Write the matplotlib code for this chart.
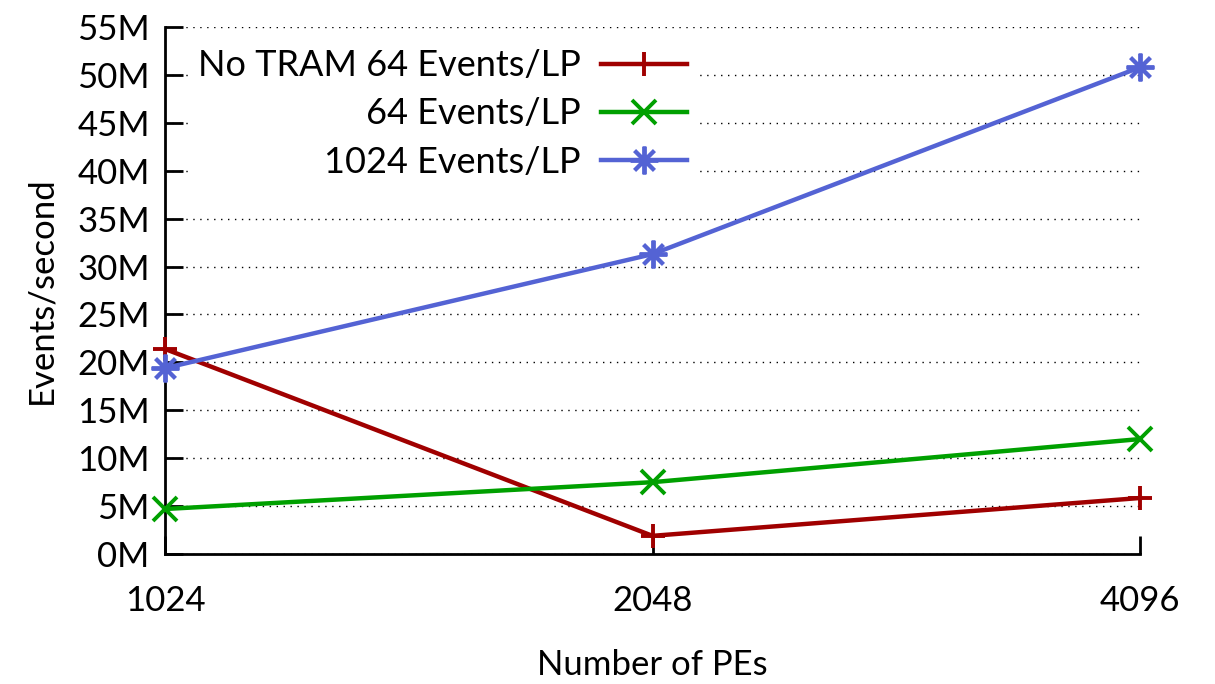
import matplotlib
matplotlib.use("Agg")
import matplotlib.pyplot as plt

plt.rcParams["font.family"] = ["Lato", "DejaVu Sans"]

pes = ["1024", "2048", "4096"]
no_tram_64 = [21.4, 1.9, 5.85]
tram_64 = [4.7, 7.5, 12.0]
tram_1024 = [19.4, 31.3, 50.8]
yticks = list(range(0, 56, 5))

fig = plt.figure(figsize=(12.15, 6.84), dpi=100)
ax = fig.add_axes([0.1358, 0.190, 0.8025, 0.7705])

xs = range(len(pes))
style = dict(lw=3.2, mew=2.8, clip_on=False, zorder=3)
ax.plot(xs, no_tram_64, color="#a00000", marker="+", ms=17,
        label="No TRAM 64 Events/LP", **style)
ax.plot(xs, tram_64, color="#00a000", marker="x", ms=17,
        label="64 Events/LP", **style)
ax.plot(xs, tram_1024, color="#5463d4", marker=(8, 2, 0), ms=20,
        label="1024 Events/LP", **style)

ax.set_xlim(0, len(pes) - 1)
ax.set_ylim(0, 55)
ax.set_xticks(list(xs))
ax.set_xticklabels(pes)
ax.set_yticks(yticks)
ax.set_yticklabels([f"{v}M" for v in yticks])

ax.grid(axis="y", color="black", linestyle=(0, (1, 4)), linewidth=1.0)
ax.set_axisbelow(True)

for s in ("top", "right"):
    ax.spines[s].set_visible(False)
for s in ("left", "bottom"):
    ax.spines[s].set_linewidth(2.0)

ax.tick_params(axis="y", direction="in", length=13, width=2.0,
               labelsize=25, pad=11)
ax.tick_params(axis="x", direction="in", length=13, width=2.0,
               labelsize=25, pad=22)

ax.set_ylabel("Events/second", fontsize=25, labelpad=14)
ax.set_xlabel("Number of PEs", fontsize=25, labelpad=23)

# key sits right of the y axis, samples after the text as gnuplot does
leg = ax.legend(loc="upper right", bbox_to_anchor=(0.545, 0.975),
                markerfirst=False, fontsize=26, frameon=True,
                handlelength=2.4, handletextpad=0.55, labelspacing=0.42,
                borderpad=0.25, borderaxespad=0.0, fancybox=False)
leg.get_frame().set_facecolor("white")
leg.get_frame().set_edgecolor("none")
leg.get_frame().set_alpha(1.0)

fig.savefig("out.png", dpi=100)
